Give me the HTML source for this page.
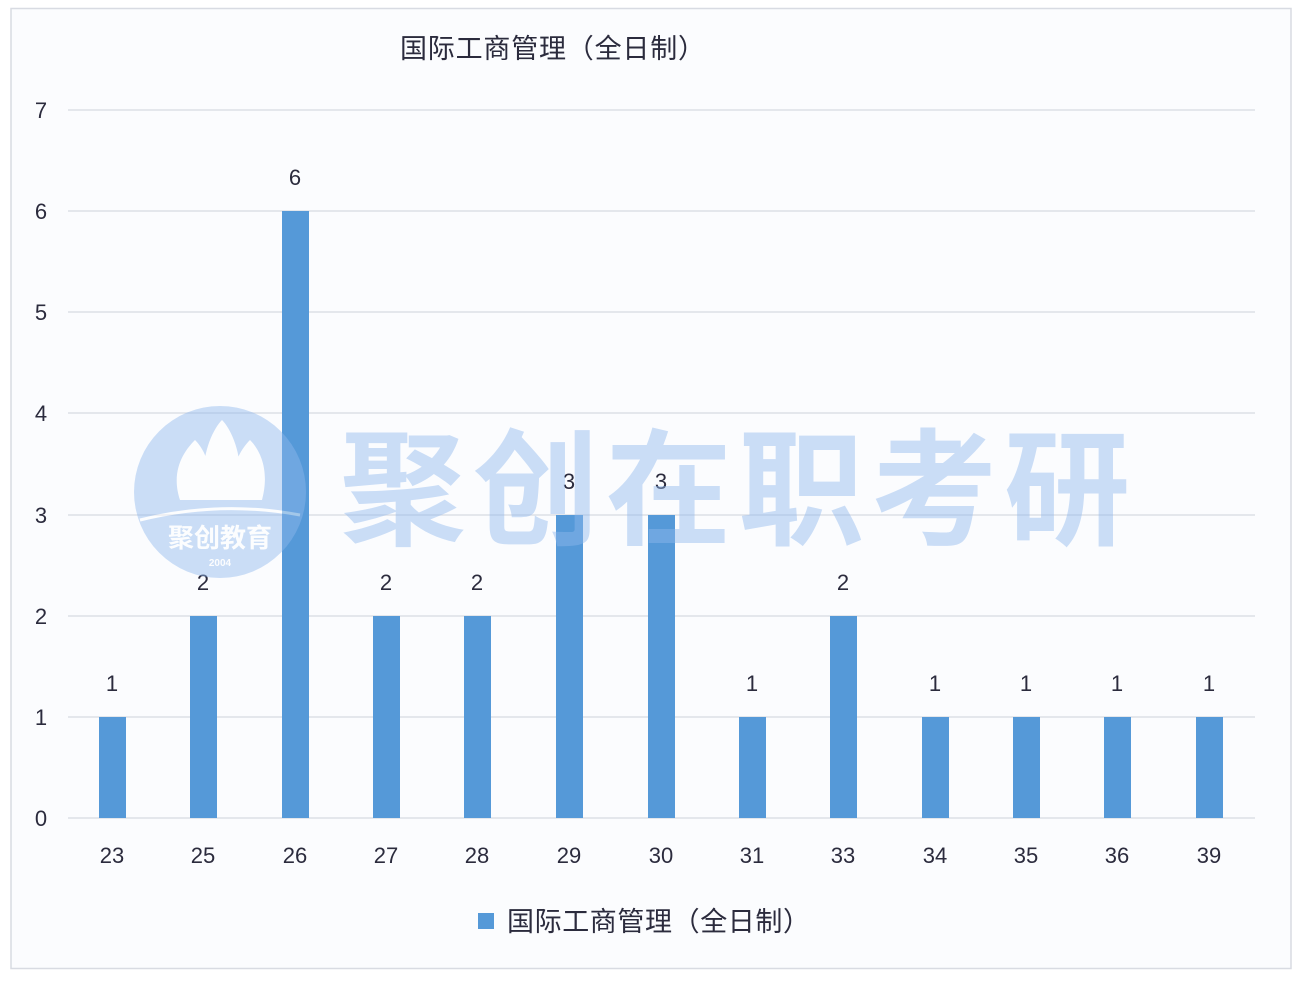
<!DOCTYPE html>
<html><head><meta charset="utf-8"><style>
html,body{margin:0;padding:0;background:#fff;}
svg{display:block;}
text{font-family:"Liberation Sans","Noto Sans CJK SC",sans-serif;fill:#2b2b3d;}
</style></head><body>
<svg width="1308" height="984" viewBox="0 0 1308 984">
<rect x="0" y="0" width="1308" height="984" fill="#ffffff"/>
<rect x="11" y="8.5" width="1280" height="960" fill="#fbfcfe" stroke="#d8dbe2" stroke-width="1.5"/>
<text x="400" y="58" font-size="27" textLength="305">国际工商管理（全日制）</text>
<g stroke="#d6dae2" stroke-width="1.3">
<line x1="68" y1="110" x2="1255" y2="110"/>
<line x1="68" y1="211" x2="1255" y2="211"/>
<line x1="68" y1="312" x2="1255" y2="312"/>
<line x1="68" y1="413" x2="1255" y2="413"/>
<line x1="68" y1="515" x2="1255" y2="515"/>
<line x1="68" y1="616" x2="1255" y2="616"/>
<line x1="68" y1="717" x2="1255" y2="717"/>
<line x1="68" y1="818" x2="1255" y2="818"/>
</g>
<g font-size="22" text-anchor="middle">
<text x="41" y="118">7</text><text x="41" y="219">6</text><text x="41" y="320">5</text>
<text x="41" y="421">4</text><text x="41" y="523">3</text><text x="41" y="624">2</text>
<text x="41" y="725">1</text><text x="41" y="826">0</text>
</g>
<g fill="#5599d8">
<rect x="99" y="717" width="27" height="101"/>
<rect x="190" y="616" width="27" height="202"/>
<rect x="282" y="211" width="27" height="607"/>
<rect x="373" y="616" width="27" height="202"/>
<rect x="464" y="616" width="27" height="202"/>
<rect x="556" y="515" width="27" height="303"/>
<rect x="648" y="515" width="27" height="303"/>
<rect x="739" y="717" width="27" height="101"/>
<rect x="830" y="616" width="27" height="202"/>
<rect x="922" y="717" width="27" height="101"/>
<rect x="1013" y="717" width="27" height="101"/>
<rect x="1104" y="717" width="27" height="101"/>
<rect x="1196" y="717" width="27" height="101"/>
</g>
<g font-size="22" text-anchor="middle">
<text x="112" y="691">1</text><text x="203" y="590">2</text><text x="295" y="185">6</text>
<text x="386" y="590">2</text><text x="477" y="590">2</text><text x="569" y="489">3</text>
<text x="661" y="489">3</text><text x="752" y="691">1</text><text x="843" y="590">2</text>
<text x="935" y="691">1</text><text x="1026" y="691">1</text><text x="1117" y="691">1</text>
<text x="1209" y="691">1</text>
</g>
<g font-size="22" text-anchor="middle">
<text x="112" y="863">23</text><text x="203" y="863">25</text><text x="295" y="863">26</text>
<text x="386" y="863">27</text><text x="477" y="863">28</text><text x="569" y="863">29</text>
<text x="661" y="863">30</text><text x="752" y="863">31</text><text x="843" y="863">33</text>
<text x="935" y="863">34</text><text x="1026" y="863">35</text><text x="1117" y="863">36</text>
<text x="1209" y="863">39</text>
</g>
<g opacity="0.45">
<circle cx="220" cy="492" r="86" fill="#8fb8ee"/>
<path d="M180 500 C170 470 185 450 195 440 C205 450 215 470 205 500Z M205 500 C198 460 212 430 222 420 C232 430 246 460 238 500Z M235 500 C228 470 240 450 250 440 C260 450 270 470 262 500Z" fill="#fff"/>
<path d="M140 520 Q220 500 300 515" stroke="#fff" stroke-width="3" fill="none"/>
<text x="220" y="547" font-size="26" font-weight="bold" text-anchor="middle" style="fill:#fff">聚创教育</text>
<text x="220" y="566" font-size="10" font-weight="bold" text-anchor="middle" style="fill:#fff">2004</text>
<text x="735" y="535" font-size="126" font-weight="bold" text-anchor="middle" textLength="790" style="fill:#8fb8ee">聚创在职考研</text>
</g>
<rect x="478" y="913" width="16" height="16" fill="#5599d8"/>
<text x="507" y="931" font-size="27" textLength="303">国际工商管理（全日制）</text>
</svg>
</body></html>
